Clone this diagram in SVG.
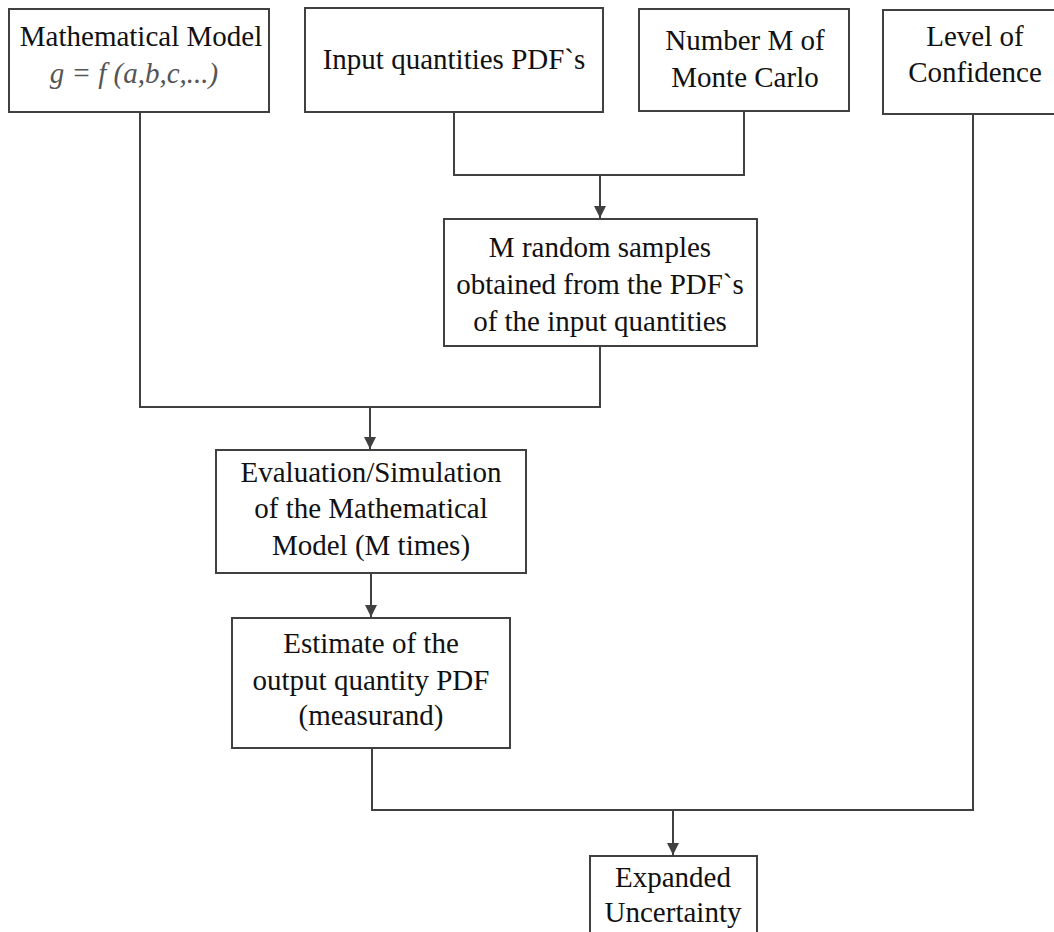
<svg xmlns="http://www.w3.org/2000/svg" width="1054" height="932" viewBox="0 0 1054 932">
  <style>
    .box { fill: #ffffff; stroke: #404040; stroke-width: 2; }
    .lbl { font-size: 29px; fill: #111111; text-anchor: middle; }
    .eq { font-size: 29px; font-style: italic; fill: #555555; text-anchor: middle; }
    .wire { fill: none; stroke: #404040; stroke-width: 2; }
  </style>
  <defs>
    <marker id="arrow" viewBox="0 0 12 12" refX="12" refY="6" markerWidth="12" markerHeight="12" markerUnits="userSpaceOnUse" orient="auto">
      <path d="M0,0 L12,6 L0,12 Z" fill="#404040"/>
    </marker>
  </defs>

  <rect width="1054" height="932" fill="#ffffff"/>

  <!-- connectors -->
  <g id="connectors">
    <path class="wire" d="M140,112 V407 H600 V346"/>
    <path class="wire" d="M370,407 V449" marker-end="url(#arrow)"/>
    <path class="wire" d="M454,112 V175 H744 V111"/>
    <path class="wire" d="M600,175 V218" marker-end="url(#arrow)"/>
    <path class="wire" d="M371,573 V617" marker-end="url(#arrow)"/>
    <path class="wire" d="M372,748 V810 H973 V114"/>
    <path class="wire" d="M673,810 V855" marker-end="url(#arrow)"/>
  </g>

  <!-- nodes -->
  <g font-family="Liberation Serif, Tinos, DejaVu Serif, serif">
    <g id="math-model">
      <rect class="box" x="9" y="9" width="260" height="103"/>
      <text class="lbl" x="141" y="46">Mathematical Model</text>
      <text class="eq" x="134" y="83">g = f (a,b,c,...)</text>
    </g>

    <g id="input-pdfs">
      <rect class="box" x="305" y="8" width="298" height="104"/>
      <text class="lbl" x="454" y="69">Input quantities PDF`s</text>
    </g>

    <g id="monte-carlo-count">
      <rect class="box" x="639" y="9" width="210" height="102"/>
      <text class="lbl" x="745" y="50">Number M of</text>
      <text class="lbl" x="745" y="87">Monte Carlo</text>
    </g>

    <g id="confidence">
      <rect class="box" x="883" y="10" width="190" height="104"/>
      <text class="lbl" x="975" y="46">Level of</text>
      <text class="lbl" x="975" y="82">Confidence</text>
    </g>

    <g id="random-samples">
      <rect class="box" x="444" y="219" width="313" height="127"/>
      <text class="lbl" x="600" y="257">M random samples</text>
      <text class="lbl" x="600" y="294">obtained from the PDF`s</text>
      <text class="lbl" x="600" y="331">of the input quantities</text>
    </g>

    <g id="evaluation">
      <rect class="box" x="216" y="450" width="310" height="123"/>
      <text class="lbl" x="371" y="482">Evaluation/Simulation</text>
      <text class="lbl" x="371" y="518">of the Mathematical</text>
      <text class="lbl" x="371" y="555">Model (M times)</text>
    </g>

    <g id="output-pdf">
      <rect class="box" x="232" y="618" width="278" height="130"/>
      <text class="lbl" x="371" y="653">Estimate of the</text>
      <text class="lbl" x="371" y="690">output quantity PDF</text>
      <text class="lbl" x="371" y="725">(measurand)</text>
    </g>

    <g id="expanded-uncertainty">
      <rect class="box" x="590" y="856" width="167" height="90"/>
      <text class="lbl" x="673" y="887">Expanded</text>
      <text class="lbl" x="673" y="922">Uncertainty</text>
    </g>
  </g>
</svg>
